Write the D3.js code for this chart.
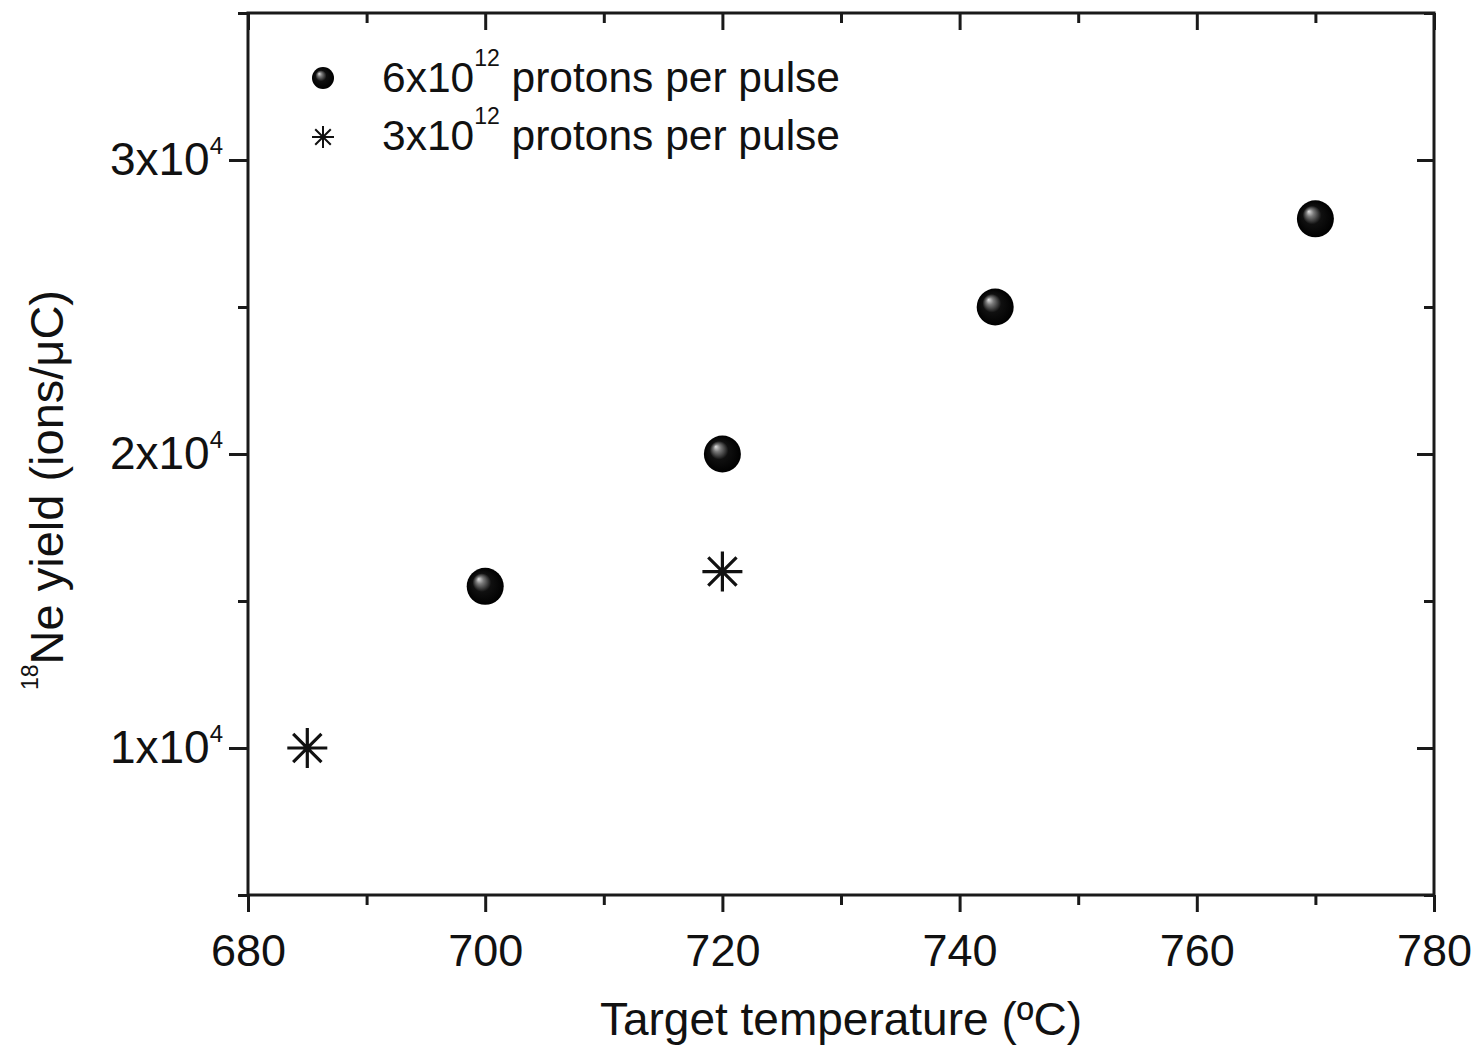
<!DOCTYPE html>
<html lang="en">
<head>
    <meta charset="UTF-8">
    <title>18Ne yield vs target temperature</title>
    <script src="https://d3js.org/d3.v7.min.js"></script>
    <style>
        body {
            margin: 0;
            padding: 0;
            background-color: #ffffff;
        }
        svg text {
            font-family: "Liberation Sans", Arial, sans-serif;
            fill: #111;
        }
    </style>
</head>
<body>
<svg id="chart" width="1483" height="1050"></svg>

<script>
    // data
    const tempHigh = [700, 720, 743, 770];          // 6x10^12 protons per pulse
    const yieldHigh = [15500, 20000, 25000, 28000];
    const tempLow = [685, 720];                      // 3x10^12 protons per pulse
    const yieldLow = [10000, 16000];

    const xTicks = [680, 700, 720, 740, 760, 780];
    const xMinor = [690, 710, 730, 750, 770];
    const yTicks = [10000, 20000, 30000];
    const yMinor = [5000, 15000, 25000, 35000];

    const legendLabels = ["6x10", "3x10"];
    const legendExp = ["12", "12"];

    const svg = d3.select("#chart");
    const margin = {top: 13, right: 49, bottom: 155, left: 248};
    const width = 1483 - margin.left - margin.right;
    const height = 1050 - margin.top - margin.bottom;

    const g = svg.append("g").attr("transform", `translate(${margin.left},${margin.top})`);

    const x = d3.scaleLinear().domain([680, 780]).range([0, width]);
    const y = d3.scaleLinear().domain([5000, 35000]).range([height, 0]);

    // shaded ball for the filled markers
    const defs = svg.append("defs");
    const grad = defs.append("radialGradient").attr("id", "ball")
        .attr("cx", "50%").attr("cy", "50%").attr("r", "50%")
        .attr("fx", "32%").attr("fy", "30%");
    grad.append("stop").attr("offset", "0%").attr("stop-color", "#e0e0e0");
    grad.append("stop").attr("offset", "20%").attr("stop-color", "#7a7a7a");
    grad.append("stop").attr("offset", "50%").attr("stop-color", "#101010");
    grad.append("stop").attr("offset", "100%").attr("stop-color", "#000");

    function asterisk(r) {
        let p = "";
        for (let k = 0; k < 4; k++) {
            const a = k * Math.PI / 4;
            const dx = r * Math.cos(a), dy = r * Math.sin(a);
            p += `M${-dx},${-dy}L${dx},${dy}`;
        }
        return p;
    }

    function styleAxis(sel) {
        sel.select(".domain").remove();
        sel.selectAll(".tick line").attr("stroke", "#1a1a1a").attr("stroke-width", 3);
    }

    // bottom axis (outward ticks)
    g.append("g").attr("transform", `translate(0,${height})`)
        .call(d3.axisBottom(x).tickValues(xTicks).tickSize(17).tickPadding(22).tickFormat(d3.format("d")))
        .call(styleAxis)
        .call(s => s.selectAll("text").attr("font-size", 45));
    g.append("g").attr("transform", `translate(0,${height})`)
        .call(d3.axisBottom(x).tickValues(xMinor).tickSize(10).tickFormat(""))
        .call(styleAxis);

    // top axis (inward ticks)
    g.append("g")
        .call(d3.axisTop(x).tickValues(xTicks).tickSize(-17).tickFormat(""))
        .call(styleAxis);
    g.append("g")
        .call(d3.axisTop(x).tickValues(xMinor).tickSize(-10).tickFormat(""))
        .call(styleAxis);

    // left axis (outward ticks) with 10^4 labels
    g.append("g")
        .call(d3.axisLeft(y).tickValues(yTicks).tickSize(19).tickPadding(6).tickFormat(""))
        .call(styleAxis)
        .call(s => s.selectAll(".tick text").attr("font-size", 46).each(function(d) {
            const t = d3.select(this);
            t.append("tspan").text((d / 10000) + "x10");
            t.append("tspan").attr("dy", -21).attr("font-size", 24).text("4");
        }));
    g.append("g")
        .call(d3.axisLeft(y).tickValues(yMinor).tickSize(10).tickFormat(""))
        .call(styleAxis);

    // right axis (inward ticks)
    g.append("g").attr("transform", `translate(${width},0)`)
        .call(d3.axisRight(y).tickValues(yTicks).tickSize(-17).tickFormat(""))
        .call(styleAxis);
    g.append("g").attr("transform", `translate(${width},0)`)
        .call(d3.axisRight(y).tickValues(yMinor).tickSize(-10).tickFormat(""))
        .call(styleAxis);

    // frame
    g.append("rect")
        .attr("width", width).attr("height", height)
        .attr("fill", "none").attr("stroke", "#1a1a1a").attr("stroke-width", 3);

    // axis titles
    svg.append("text")
        .attr("x", margin.left + width / 2).attr("y", 1035)
        .attr("text-anchor", "middle").attr("font-size", 46)
        .text("Target temperature (ºC)");

    const yt = svg.append("text")
        .attr("transform", "translate(63,490) rotate(-90)")
        .attr("text-anchor", "middle").attr("font-size", 47);
    yt.append("tspan").attr("font-size", 23).attr("dy", -25).text("18");
    yt.append("tspan").attr("dy", 25).text("Ne yield (ions/\u03bcC)");

    // data points
    g.selectAll(".ball")
        .data(tempHigh.map((t, i) => ({t: t, v: yieldHigh[i]})))
        .enter().append("circle")
        .attr("class", "ball")
        .attr("cx", d => x(d.t)).attr("cy", d => y(d.v))
        .attr("r", 18.5)
        .attr("fill", "url(#ball)");

    g.selectAll(".star")
        .data(tempLow.map((t, i) => ({t: t, v: yieldLow[i]})))
        .enter().append("path")
        .attr("class", "star")
        .attr("transform", d => `translate(${x(d.t)},${y(d.v)})`)
        .attr("d", asterisk(20))
        .attr("stroke", "#111").attr("stroke-width", 3.2).attr("fill", "none");

    // legend
    const legend = svg.append("g");
    legend.append("circle").attr("cx", 323).attr("cy", 78).attr("r", 11).attr("fill", "url(#ball)");
    legend.append("path").attr("transform", "translate(323,137)")
        .attr("d", asterisk(11)).attr("stroke", "#111").attr("stroke-width", 2).attr("fill", "none");

    legendLabels.forEach((lab, i) => {
        const t = legend.append("text")
            .attr("x", 382).attr("y", 92 + i * 58)
            .attr("font-size", 42.5);
        t.append("tspan").text(lab);
        t.append("tspan").attr("dy", -26).attr("font-size", 23).text(legendExp[i]);
        t.append("tspan").attr("dy", 26).text(" protons per pulse");
    });
</script>
</body>
</html>
